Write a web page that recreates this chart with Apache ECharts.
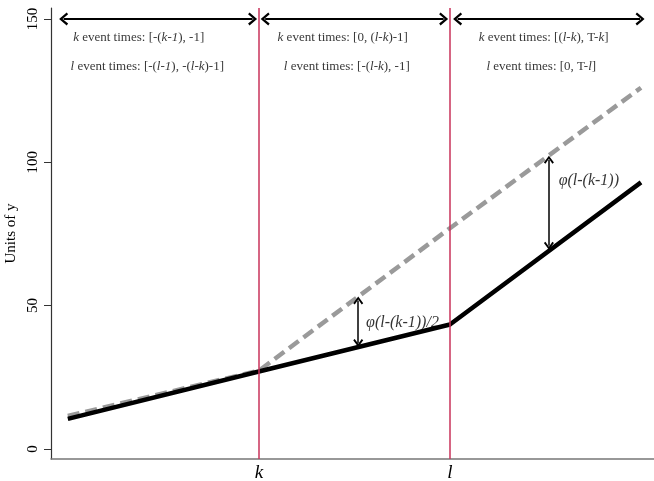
<!DOCTYPE html>
<html>
<head>
<meta charset="utf-8">
<script src="https://cdn.jsdelivr.net/npm/echarts@6/dist/echarts.min.js"></script>
<style>html,body{margin:0;padding:0;background:#fff}#c{width:654px;height:481px}</style>
</head>
<body>
<div id="c"></div>
<script>
// ---- data ----
const time = [0, 10, 20, 30];
const observed = [10.5, 27, 43.4, 93];
const counterfactual = [11.5, 27.3, 77, 126];
const eventTimes = [10, 20];
const eventLabels = ['k', 'l'];
const yTicks = [0, 50, 100, 150];
// top range arrows (arrow-head centres)
const rangeStart = [-0.22, 10.33, 20.4];
const rangeEnd = [9.67, 19.67, 29.95];
const rangeY = 150;
// range text
const textT = [3.71, 4.16, 14.39, 14.6, 24.9, 24.78];
const textY = [143.4, 133.2, 143.4, 133.2, 143.4, 133.2];
const textStr = [
  '{i|k} event times: [-({i|k}-{i|1}), -1]',
  '{i|l} event times: [-({i|l}-{i|1}), -({i|l}-{i|k})-1]',
  '{i|k} event times: [0, ({i|l}-{i|k})-1]',
  '{i|l} event times: [-({i|l}-{i|k}), -1]',
  '{i|k} event times: [({i|l}-{i|k}), T-{i|k}]',
  '{i|l} event times: [0, T-{i|l}]'
];
// gap arrows (arrow-head centres)
const gapT = [15.2, 25.18];
const gapLow = [37.0, 70.9];
const gapHigh = [51.8, 100.9];
const gapLabelT = [15.61, 25.69];
const gapLabelY = [44, 93.7];
const gapLabel = ['φ(l-(k-1))/2', 'φ(l-(k-1))'];

const serif = 'Liberation Serif';
const arrowPath = 'path://M5,0 L10,8 L8.5,9.5 L5,3.6 L1.5,9.5 L0,8 Z';

const chart = echarts.init(document.getElementById('c'));
chart.setOption({
  animation: false,
  backgroundColor: '#fff',
  grid: { left: 51, right: 0, top: 8, bottom: 22, containLabel: false, outerBoundsMode: 'none' },
  xAxis: {
    type: 'value', min: -0.88, max: 30.68,
    axisLine: { show: true, onZero: false, lineStyle: { color: '#777', width: 1.5 } },
    axisTick: { show: false },
    splitLine: { show: false },
    axisLabel: {
      customValues: eventTimes,
      formatter: v => eventLabels[eventTimes.indexOf(v)] || '',
      fontFamily: serif, fontStyle: 'italic', fontSize: 19, color: '#000', margin: 4
    },
    name: 'Time', nameLocation: 'middle', nameGap: 2,
    nameTextStyle: { fontFamily: serif, fontSize: 15, color: '#000', verticalAlign: 'top' }
  },
  yAxis: {
    type: 'value', min: -3.5, max: 153.8,
    axisLine: { show: true, onZero: false, lineStyle: { color: '#333', width: 1.2 } },
    axisTick: { show: true, customValues: yTicks, length: 7, lineStyle: { color: '#333' } },
    splitLine: { show: false },
    axisLabel: {
      customValues: yTicks, rotate: 90, margin: 10,
      fontFamily: serif, fontSize: 15, color: '#000'
    },
    name: 'Units of y', nameLocation: 'middle', nameGap: 25, nameRotate: 90,
    nameTextStyle: { fontFamily: serif, fontSize: 15, color: '#000' }
  },
  series: [
    {
      name: 'events', type: 'line', data: [], silent: true,
      markLine: {
        silent: true, symbol: ['none', 'none'], label: { show: false },
        lineStyle: { color: '#c8325a', width: 1.5, type: 'solid' },
        data: eventTimes.map(t => ({ xAxis: t }))
      }
    },
    {
      name: 'counterfactual', type: 'line', showSymbol: false, symbol: 'none',
      data: time.map((t, i) => [t, counterfactual[i]]),
      lineStyle: { color: '#9a9a9a', width: 4.5, type: [12, 6] }, z: 3
    },
    {
      name: 'observed', type: 'line', showSymbol: false, symbol: 'none',
      data: time.map((t, i) => [t, observed[i]]),
      lineStyle: { color: '#000', width: 4.5 }, z: 4
    },
    {
      name: 'arrows', type: 'line', data: [], silent: true, z: 5,
      markLine: {
        silent: true, symbol: [arrowPath, arrowPath], symbolSize: [13, 9],
        label: { show: false },
        lineStyle: { color: '#000', width: 2, type: 'solid' },
        itemStyle: { color: '#000' },
        data: rangeStart.map((s, i) => [{ coord: [s, rangeY] }, { coord: [rangeEnd[i], rangeY] }])
          .concat(gapT.map((t, i) => [
            { coord: [t, gapLow[i]], lineStyle: { width: 1.5 }, symbolSize: [10, 8] },
            { coord: [t, gapHigh[i]], lineStyle: { width: 1.5 }, symbolSize: [10, 8] }
          ]))
      }
    },
    {
      name: 'rangeText', type: 'scatter', symbolSize: 0, silent: true, z: 6,
      data: textT.map((t, i) => [t, textY[i], textStr[i]]),
      label: {
        show: true, position: 'inside', formatter: p => p.data[2],
        fontFamily: serif, fontSize: 13, color: '#000',
        rich: { i: { fontFamily: serif, fontSize: 13, fontStyle: 'italic', color: '#000' } }
      }
    },
    {
      name: 'gapText', type: 'scatter', symbolSize: 0, silent: true, z: 6,
      data: gapLabelT.map((t, i) => [t, gapLabelY[i], gapLabel[i]]),
      label: {
        show: true, position: 'right', distance: 0, formatter: p => p.data[2],
        fontFamily: serif, fontSize: 16, fontStyle: 'italic', color: '#000'
      }
    }
  ]
});
</script>
</body>
</html>
